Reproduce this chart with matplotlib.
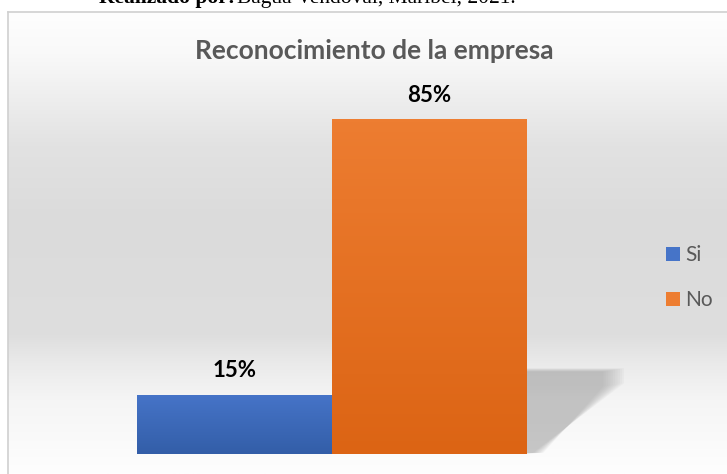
import numpy as np
import matplotlib.pyplot as plt
from matplotlib.patches import Polygon
from matplotlib.colors import to_rgb

categories = ["Si", "No"]
values = [15, 85]
labels = ["15%", "85%"]
colors_top = ["#4674c8", "#ed7d31"]
colors_bottom = ["#335ea8", "#dc6414"]

W, H = 727, 474
fig = plt.figure(figsize=(W / 100, H / 100), dpi=100)
fig.patch.set_facecolor("white")

# chart background (gray vertical gradient, like the Excel style)
bg = fig.add_axes([8 / W, 0, 1 - 8 / W, (H - 12) / H])
stops_y = [0, 0.09, 0.29, 0.45, 0.70, 0.76, 0.84, 1.0]
stops_v = [254, 249, 226, 219, 222, 234, 245, 254]
yy = np.linspace(0, 1, 400)
grad = np.interp(yy, stops_y, stops_v) / 255
bgimg = np.stack([grad, grad, grad], axis=-1)[:, None, :].repeat(2, axis=1)
bg.imshow(bgimg, aspect="auto", extent=[0, 1, 1, 0])
bg.set_xlim(0, 1)
bg.set_ylim(1, 0)
bg.set_xticks([])
bg.set_yticks([])
for s in ["right", "bottom"]:
    bg.spines[s].set_visible(False)
for s in ["left", "top"]:
    bg.spines[s].set_color("#d0d0d0")
    bg.spines[s].set_linewidth(1.2)

ax = fig.add_axes([39.5 / W, (H - 454) / H, 585 / W, 394 / H])
ax.axis("off")
ax.patch.set_alpha(0)

x = np.arange(len(categories))
bars = ax.bar(x, values, width=1.0, color=colors_top, zorder=3)

# shadow behind the tallest bar
b = bars[1]
xe = b.get_x() + b.get_width()
top = 0.256 * b.get_height()
for k in range(10):
    d = k * 0.012
    pts = [(xe - 0.1, 0), (xe - 0.1, top - d * 8), (xe + 0.5 - d, top - d * 8),
           (xe + 0.5 - d, top * 0.83 - d * 8), (xe + 0.03 + d * 0.5, 0.3)]
    ax.add_patch(Polygon(pts, closed=True, facecolor="#808080", edgecolor="none",
                         alpha=0.05, zorder=2))

# vertical gradient inside every bar
for bar, ct, cb in zip(bars, colors_top, colors_bottom):
    h = bar.get_height()
    t = np.linspace(0, 1, 100)[:, None]
    c0, c1 = np.array(to_rgb(ct)), np.array(to_rgb(cb))
    img = (c0 * (1 - t) + c1 * t)[:, None, :].repeat(2, axis=1)
    im = ax.imshow(img, aspect="auto", zorder=4,
                   extent=[bar.get_x(), bar.get_x() + bar.get_width(), 0, h])
    im.set_clip_path(bar)

ax.set_xlim(-1, 2)
ax.set_ylim(0, 100)

for xi, v, lab in zip(x, values, labels):
    ax.annotate(lab, (xi, v), xytext=(0, 17.5), textcoords="offset pixels",
                ha="center", va="baseline", fontsize=16, fontweight="bold",
                family="Lato", color="black", zorder=5)

# legend
for i, (cat, c) in enumerate(zip(categories, colors_top)):
    ly = 1 - (261 + i * 45) / H
    fig.patches.append(plt.Rectangle((666 / W, ly), 14 / W, 14 / H,
                                     transform=fig.transFigure, figure=fig,
                                     facecolor=c, edgecolor="none"))
    fig.text(685 / W, ly, cat, ha="left", va="baseline", fontsize=15,
             family="Lato", color="#595959")

fig.text(374 / W, 1 - 59 / H, "Reconocimiento de la empresa", ha="center",
         va="baseline", fontsize=19, fontweight="bold", family="Lato",
         color="#595959")

# caption cut at the top of the image
fig.text(99 / W, 1 - 3 / H, "Realizado por:", ha="left", va="baseline",
         fontsize=15.5, fontweight="bold", family="Liberation Serif")
fig.text(237 / W, 1 - 3 / H, "Bagua Vendoval, Maribel, 2021.", ha="left",
         va="baseline", fontsize=15.5, family="Liberation Serif")

fig.savefig("out.png", dpi=100)
